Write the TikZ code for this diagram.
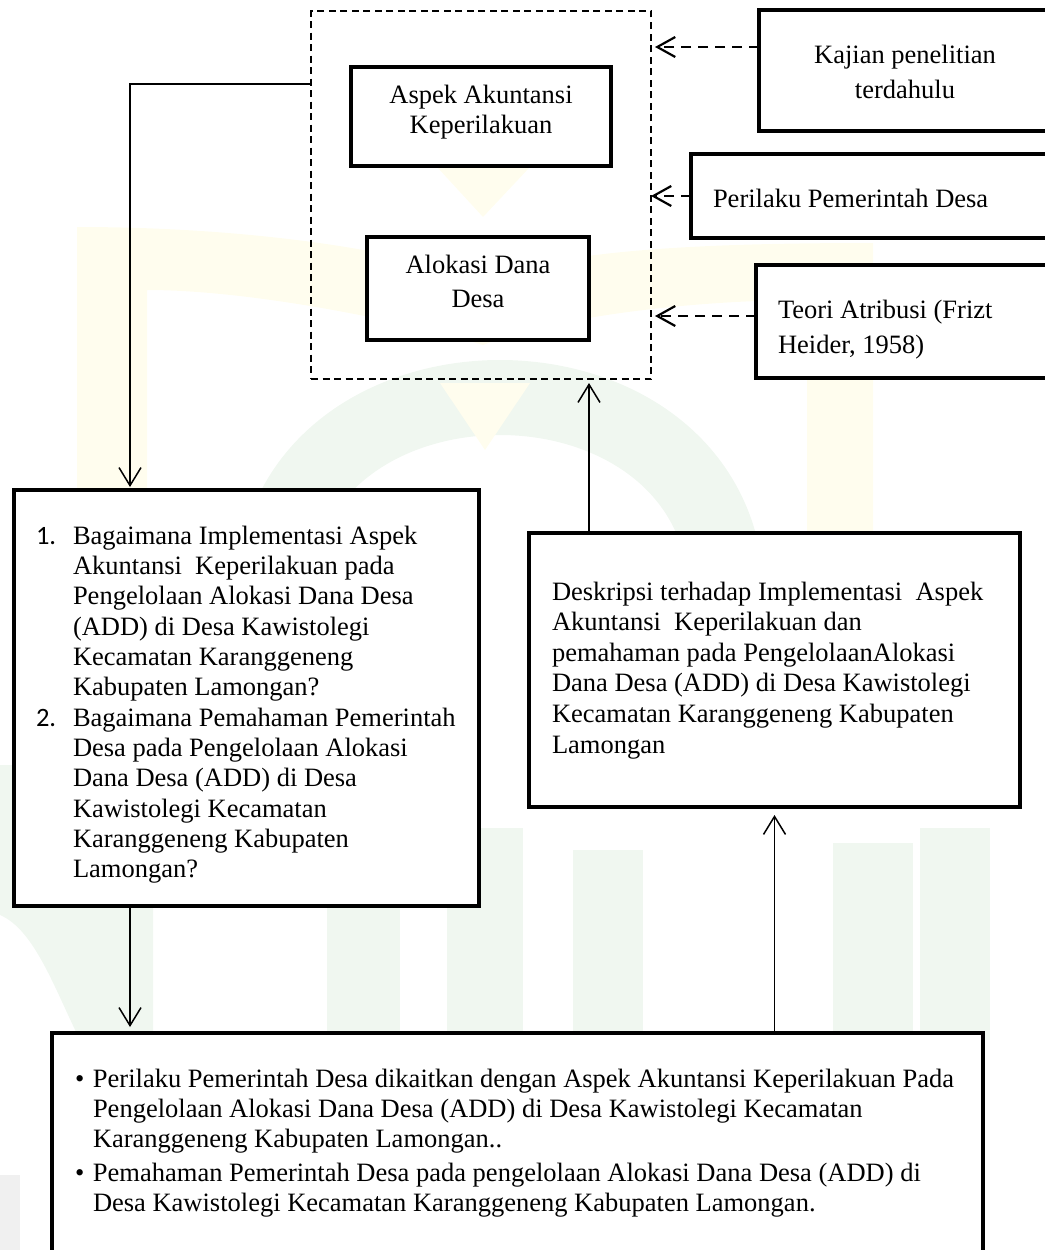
\documentclass[tikz,border=0pt]{standalone}
\usepackage{fontspec}
\setmainfont{Liberation Serif}
\newfontfamily\numfont{Carlito}
\usetikzlibrary{arrows.meta,calc}

\definecolor{wmyellow}{RGB}{255,253,238}
\definecolor{wmgreen}{RGB}{240,247,240}
\definecolor{wmgray}{RGB}{240,240,240}

% struts that fix the top of the first line and the bottom of the last line
\newcommand\hiStrut{\rule{0pt}{19pt}}
\newcommand\loStrut{\rule[-6pt]{0pt}{6pt}}

\begin{document}
\begin{tikzpicture}[x=1pt,y=-1pt,
  box/.style={draw, fill=white, line width=4pt, outer sep=0pt, inner sep=0pt},
  framebox/.style={draw, line width=1.3pt, dash pattern=on 7pt off 4.5pt, outer sep=0pt, inner sep=0pt},
  txt/.style={inner sep=0pt, outer sep=0pt},
  conn/.style={line width=1.5pt, -{Straight Barb[length=18pt,width=22pt]}},
  dconn/.style={line width=1.8pt, dash pattern=on 10pt off 7pt, -{Straight Barb[length=18pt,width=20pt,line width=2.2pt]}},
]
\useasboundingbox (0,0) rectangle (1044,1250);

% faint seal in the background
\fill[wmyellow] (77,490) -- (77,227) .. controls (250,227) and (400,250) .. (483,280)
  .. controls (560,250) and (700,243) .. (873,243) -- (873,560) -- (807,560) -- (807,300)
  .. controls (700,300) and (560,315) .. (483,345) .. controls (400,320) and (250,290) .. (147,290)
  -- (147,490) -- cycle;
\draw[wmgreen, line width=75pt] (273,600) .. controls (273,330) and (727,330) .. (727,600);
\fill[wmyellow] (437,167) -- (530,167) -- (483,217) -- cycle;
\fill[wmyellow] (440,383) -- (530,383) -- (485,450) -- cycle;
\fill[wmgreen] (0,765) -- (153,765) -- (153,1040) -- (80,1040)
  .. controls (55,990) and (35,930) .. (0,915) -- cycle;
\fill[wmgreen] (327,830) rectangle (400,1040);
\fill[wmgreen] (447,828) rectangle (523,1040);
\fill[wmgreen] (573,850) rectangle (643,1040);
\fill[wmgreen] (833,843) rectangle (913,1040);
\fill[wmgreen] (920,828) rectangle (990,1040);
\fill[wmgray] (0,1175) rectangle (20,1250);

% boxes
\node[framebox, minimum width=340pt, minimum height=368pt] (frame) at (481,195) {};
\node[box, minimum width=260pt, minimum height=99pt]  (aspek)    at (481,116.5) {};
\node[box, minimum width=222pt, minimum height=103pt] (alokasi)  at (478,288.5) {};
\node[box, minimum width=292pt, minimum height=121pt] (kajian)   at (905,70.5) {};
\node[box, minimum width=369pt, minimum height=84pt]  (perilaku) at (875.5,196) {};
\node[box, minimum width=304pt, minimum height=113pt] (teori)    at (908,321.5) {};
\node[box, minimum width=465pt, minimum height=416pt] (rumusan)  at (246.5,698) {};
\node[box, minimum width=491pt, minimum height=274pt] (deskripsi) at (774.5,670) {};
\node[box, minimum width=931pt, minimum height=237pt] (hasil)    at (517.5,1151.5) {};

% texts
\node[txt, font=\fontsize{26.5}{30}\selectfont, align=center] (aspekT) at (481,111.5)
  {\hiStrut Aspek Akuntansi\\Keperilakuan\loStrut};
\node[txt, font=\fontsize{26.5}{34}\selectfont, align=center] (alokasiT) at (478,283.5)
  {\hiStrut Alokasi Dana\\Desa\loStrut};
\node[txt, font=\fontsize{26.5}{35}\selectfont, align=center] (kajianT) at (905,74)
  {\hiStrut Kajian penelitian\\terdahulu\loStrut};
\node[txt, font=\fontsize{26.5}{30}\selectfont, anchor=base west] (perilakuT) at (713,207)
  {Perilaku Pemerintah Desa};
\node[txt, font=\fontsize{26.5}{35}\selectfont, align=left, anchor=west] (teoriT) at (778,329)
  {\hiStrut Teori Atribusi (Frizt\\Heider, 1958)\loStrut};
\node[txt, font=\fontsize{26.5}{30.6}\selectfont, align=left, anchor=west] (deskripsiT) at (552,670)
  {\hiStrut Deskripsi terhadap Implementasi\ \ Aspek\\
   Akuntansi\ \ Keperilakuan dan\\
   pemahaman pada PengelolaanAlokasi\\
   Dana Desa (ADD) di Desa Kawistolegi\\
   Kecamatan Karanggeneng Kabupaten\\
   Lamongan\loStrut};
\node[txt, font=\fontsize{26.5}{30.36}\selectfont, align=left, anchor=west] (rumusanT) at (36,704.5)
  {\hiStrut\makebox[37pt][l]{\numfont 1.}Bagaimana Implementasi Aspek\\%
   \hspace*{37pt}Akuntansi\ \ Keperilakuan pada\\%
   \hspace*{37pt}Pengelolaan Alokasi Dana Desa\\%
   \hspace*{37pt}(ADD) di Desa Kawistolegi\\%
   \hspace*{37pt}Kecamatan Karanggeneng\\%
   \hspace*{37pt}Kabupaten Lamongan?\\%
   \makebox[37pt][l]{\numfont 2.}Bagaimana Pemahaman Pemerintah\\%
   \hspace*{37pt}Desa pada Pengelolaan Alokasi\\%
   \hspace*{37pt}Dana Desa (ADD) di Desa\\%
   \hspace*{37pt}Kawistolegi Kecamatan\\%
   \hspace*{37pt}Karanggeneng Kabupaten\\%
   \hspace*{37pt}Lamongan?\loStrut};
\node[txt, font=\fontsize{26.5}{30}\selectfont, align=left, anchor=west] (hasilT) at (75,1142.5)
  {\hiStrut\makebox[18pt][l]{\textbullet}Perilaku Pemerintah Desa dikaitkan dengan Aspek Akuntansi Keperilakuan Pada\\%
   \hspace*{18pt}Pengelolaan Alokasi Dana Desa (ADD) di Desa Kawistolegi Kecamatan\\%
   \hspace*{18pt}Karanggeneng Kabupaten Lamongan..\\[4pt]%
   \makebox[18pt][l]{\textbullet}Pemahaman Pemerintah Desa pada pengelolaan Alokasi Dana Desa (ADD) di\\%
   \hspace*{18pt}Desa Kawistolegi Kecamatan Karanggeneng Kabupaten Lamongan.\loStrut};

% connector points
\coordinate (frameOut) at ([yshift=111pt]frame.west);
\coordinate (rumusanIn) at ([xshift=-116.5pt]rumusan.north);
\coordinate (rumusanOut) at ([xshift=-116.5pt]rumusan.south);
\coordinate (deskripsiOut) at ([xshift=-185.5pt]deskripsi.north);
\coordinate (kajianOut) at ([yshift=23.5pt]kajian.west);
\coordinate (teoriOut) at ([yshift=5.5pt]teori.west);

% solid connectors
\draw[conn, shorten >=3pt] (frameOut) -| (rumusanIn);
\draw[conn, shorten >=6pt] (rumusanOut) -- (rumusanOut |- hasil.north);
\draw[conn, shorten >=4pt] (deskripsiOut) -- (deskripsiOut |- frame.south);
\draw[conn, shorten >=8pt] (hasil.north -| deskripsi.south) -- (deskripsi.south);

% dashed connectors into the frame
\draw[dconn, shorten >=4pt] (kajianOut) -- (kajianOut -| frame.east);
\draw[dconn] (perilaku.west) -- (perilaku.west -| frame.east);
\draw[dconn, shorten >=4pt] (teoriOut) -- (teoriOut -| frame.east);
\end{tikzpicture}
\end{document}
